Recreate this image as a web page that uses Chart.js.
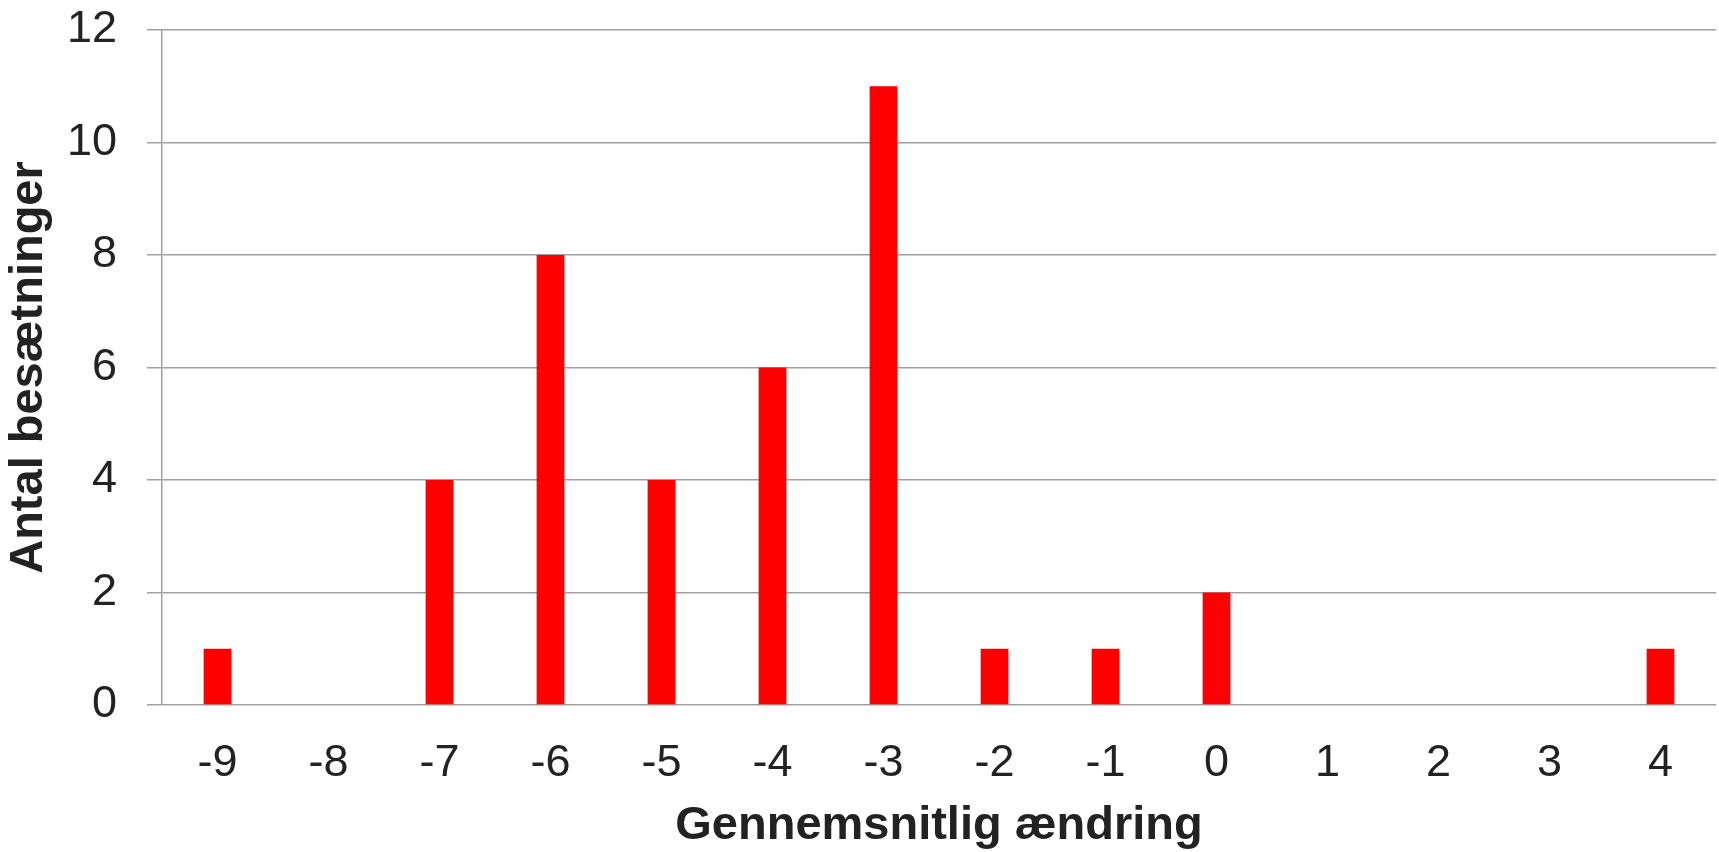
<!DOCTYPE html>
<html>
<head>
<meta charset="utf-8">
<script src="https://cdn.jsdelivr.net/npm/chart.js@4/dist/chart.umd.min.js"></script>
<style>
  body { margin: 0; background: #fff; }
  #chart { display: block; }
</style>
</head>
<body>
<canvas id="chart" width="1719" height="852"></canvas>
<script>
// Data
const categories = ['-9', '-8', '-7', '-6', '-5', '-4', '-3', '-2', '-1', '0', '1', '2', '3', '4'];
const counts = [1, 0, 4, 8, 4, 6, 11, 1, 1, 2, 0, 0, 0, 1];
const yTicks = [0, 2, 4, 6, 8, 10, 12];

const xTitle = 'Gennemsnitlig ændring';
const yTitle = 'Antal besætninger';

const gridGray = '#a0a0a0';
const textColor = '#222222';

new Chart(document.getElementById('chart'), {
    type: 'bar',
    data: {
        labels: categories,
        datasets: [{
            data: counts,
            backgroundColor: '#ff0000',
            borderWidth: 0,
            barPercentage: 0.5,
            categoryPercentage: 0.5
        }]
    },
    options: {
        responsive: false,
        animation: false,
        layout: { padding: { top: 30, right: 3, left: 0, bottom: 0 } },
        plugins: {
            legend: { display: false },
            tooltip: { enabled: false }
        },
        scales: {
            x: {
                grid: { display: false, drawTicks: false },
                border: { display: false },
                ticks: {
                    color: textColor,
                    padding: 32,
                    font: { family: 'Liberation Sans, Arial, sans-serif', size: 45 }
                },
                title: {
                    display: true,
                    text: xTitle,
                    color: textColor,
                    padding: { top: 0, bottom: 2 },
                    font: { family: 'Liberation Sans, Arial, sans-serif', size: 47, weight: 'bold', lineHeight: 1.0 }
                },
                afterFit: function(scale) { scale.height = 147; }
            },
            y: {
                min: 0,
                max: 12,
                afterBuildTicks: function(scale) {
                    scale.ticks = yTicks.map(v => ({ value: v }));
                },
                grid: {
                    color: gridGray,
                    lineWidth: 1.5,
                    tickLength: 15,
                    tickColor: gridGray
                },
                border: { display: true, color: gridGray, width: 1.5 },
                ticks: {
                    color: textColor,
                    padding: 30,
                    font: { family: 'Liberation Sans, Arial, sans-serif', size: 45 }
                },
                title: {
                    display: true,
                    text: yTitle,
                    color: textColor,
                    padding: { top: 6, bottom: 0 },
                    font: { family: 'Liberation Sans, Arial, sans-serif', size: 47, weight: 'bold', lineHeight: 1.0 }
                },
                afterFit: function(scale) {
                    scale.width = 162;
                    // tick padding would otherwise push the plot top down
                    scale.paddingTop = 0;
                    scale.paddingBottom = 0;
                }
            }
        }
    }
});
</script>
</body>
</html>
